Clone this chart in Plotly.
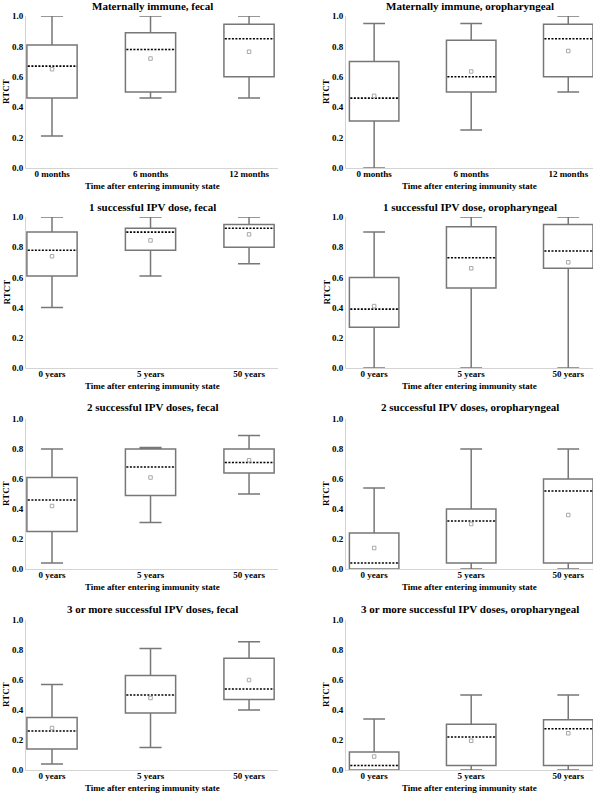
import plotly.graph_objects as go

# ---------------- data ----------------
titles = [
    "Maternally immune, fecal", "Maternally immune, oropharyngeal",
    "1 successful IPV dose, fecal", "1 successful IPV dose, oropharyngeal",
    "2 successful IPV doses, fecal", "2 successful IPV doses, oropharyngeal",
    "3 or more successful IPV doses, fecal", "3 or more successful IPV doses, oropharyngeal",
]
cats_months = ["0 months", "6 months", "12 months"]
cats_years = ["0 years", "5 years", "50 years"]
panel_cats = [cats_months, cats_months, cats_years, cats_years,
              cats_years, cats_years, cats_years, cats_years]

lower = [
    [0.21, 0.46, 0.46], [0.0, 0.25, 0.50],
    [0.40, 0.61, 0.69], [0.0, 0.0, 0.0],
    [0.04, 0.31, 0.50], [0.0, 0.0, 0.0],
    [0.04, 0.15, 0.40], [0.0, 0.0, 0.0],
]
q1 = [
    [0.46, 0.50, 0.60], [0.31, 0.50, 0.60],
    [0.61, 0.78, 0.80], [0.27, 0.53, 0.66],
    [0.25, 0.49, 0.64], [0.0, 0.04, 0.04],
    [0.14, 0.38, 0.47], [0.0, 0.03, 0.03],
]
median = [
    [0.67, 0.78, 0.85], [0.46, 0.60, 0.85],
    [0.78, 0.90, 0.925], [0.39, 0.73, 0.775],
    [0.46, 0.68, 0.71], [0.04, 0.32, 0.52],
    [0.26, 0.50, 0.54], [0.03, 0.22, 0.275],
]
mean = [
    [0.65, 0.72, 0.765], [0.475, 0.635, 0.77],
    [0.74, 0.845, 0.885], [0.41, 0.66, 0.70],
    [0.42, 0.61, 0.725], [0.14, 0.30, 0.36],
    [0.28, 0.48, 0.60], [0.09, 0.195, 0.245],
]
q3 = [
    [0.81, 0.89, 0.945], [0.70, 0.84, 0.945],
    [0.90, 0.925, 0.95], [0.60, 0.935, 0.95],
    [0.61, 0.80, 0.80], [0.24, 0.40, 0.60],
    [0.35, 0.63, 0.745], [0.12, 0.305, 0.335],
]
upper = [
    [1.0, 1.0, 1.0], [0.95, 0.95, 1.0],
    [1.0, 1.0, 1.0], [0.90, 1.0, 1.0],
    [0.80, 0.81, 0.89], [0.54, 0.80, 0.80],
    [0.57, 0.81, 0.855], [0.34, 0.50, 0.50],
]
y_ticks = [0.0, 0.2, 0.4, 0.6, 0.8, 1.0]
x_title = "Time after entering immunity state"
y_title = "RTCT"

# ---------------- layout ----------------
W, H = 600, 795
FONT = "Liberation Serif"
col_x = [(26, 278), (346, 593)]
ytitle_x = [6, 326]
row_y = [(16, 168), (217, 368), (419, 569), (620, 770)]
title_y = [6, 207, 407, 609]
BOX_W = 0.51


def px_x(v):
    return v / W


def px_y(v):
    return 1 - v / H


fig = go.Figure()
annotations = []
layout = {}
bold = dict(family=FONT, color="black", weight="bold")

for i in range(8):
    r, c = divmod(i, 2)
    n = i + 1
    xa = "x" if n == 1 else f"x{n}"
    ya = "y" if n == 1 else f"y{n}"
    pos = list(range(len(panel_cats[i])))

    fig.add_trace(go.Box(
        x=pos, q1=q1[i], median=median[i], q3=q3[i],
        lowerfence=lower[i], upperfence=upper[i],
        width=BOX_W, whiskerwidth=0.44,
        fillcolor="white", line=dict(color="#777777", width=1.5),
        boxpoints=False, showlegend=False, hoverinfo="skip",
        xaxis=xa, yaxis=ya,
    ))
    # cover plotly's solid median and draw a dotted one
    mx, my = [], []
    for p, m in zip(pos, median[i]):
        mx += [p - BOX_W / 2 + 0.01, p + BOX_W / 2 - 0.01, None]
        my += [m, m, None]
    fig.add_trace(go.Scatter(x=mx, y=my, mode="lines",
                             line=dict(color="white", width=2.5),
                             showlegend=False, hoverinfo="skip",
                             xaxis=xa, yaxis=ya))
    fig.add_trace(go.Scatter(x=mx, y=my, mode="lines",
                             line=dict(color="black", width=1.6, dash="2px,1.5px"),
                             showlegend=False, hoverinfo="skip",
                             xaxis=xa, yaxis=ya))
    fig.add_trace(go.Scatter(x=pos, y=mean[i], mode="markers",
                             marker=dict(symbol="square-open", size=3.5,
                                         color="#a8a8a8", line=dict(width=1)),
                             showlegend=False, hoverinfo="skip",
                             xaxis=xa, yaxis=ya))

    x0, x1 = col_x[c]
    y0, y1 = row_y[r]
    xrange = [-0.264, 2.294] if c == 0 else [-0.29, 2.255]
    layout["xaxis" if n == 1 else f"xaxis{n}"] = dict(
        domain=[px_x(x0), px_x(x1)], anchor=ya, range=xrange, automargin=False,
        tickvals=pos, ticktext=panel_cats[i], showgrid=False, zeroline=False,
        showline=True, linecolor="#d4d4d4", linewidth=1, ticks="",
        ticklabelstandoff=-3,
        tickfont=dict(size=9, **bold),
    )
    layout["yaxis" if n == 1 else f"yaxis{n}"] = dict(
        domain=[px_y(y1), px_y(y0)], anchor=xa, range=[0, 1.0], automargin=False,
        tickvals=y_ticks, tickformat=".1f", showgrid=False, zeroline=False,
        showline=True, linecolor="#d4d4d4", linewidth=1, ticks="",
        tickfont=dict(size=9, **bold),
    )
    annotations.append(dict(
        text=titles[i], x=px_x((x0 + x1) / 2), y=px_y(title_y[r]),
        xref="paper", yref="paper", showarrow=False, xanchor="center", yanchor="middle",
        font=dict(size=11, **bold),
    ))
    annotations.append(dict(
        text=x_title, x=px_x((x0 + x1) / 2), y=px_y(y1 + 18),
        xref="paper", yref="paper", showarrow=False, xanchor="center", yanchor="middle",
        font=dict(size=9, **bold),
    ))
    annotations.append(dict(
        text=y_title, x=px_x(ytitle_x[c]), y=px_y((y0 + y1) / 2), textangle=-90,
        xref="paper", yref="paper", showarrow=False, xanchor="center", yanchor="middle",
        font=dict(size=9, **bold),
    ))

fig.update_layout(
    width=W, height=H, margin=dict(l=0, r=0, t=0, b=0),
    paper_bgcolor="white", plot_bgcolor="white",
    annotations=annotations, **layout,
)
fig.write_html("out.html", config={"displayModeBar": False},
               post_script="document.body.style.margin='0px';")
